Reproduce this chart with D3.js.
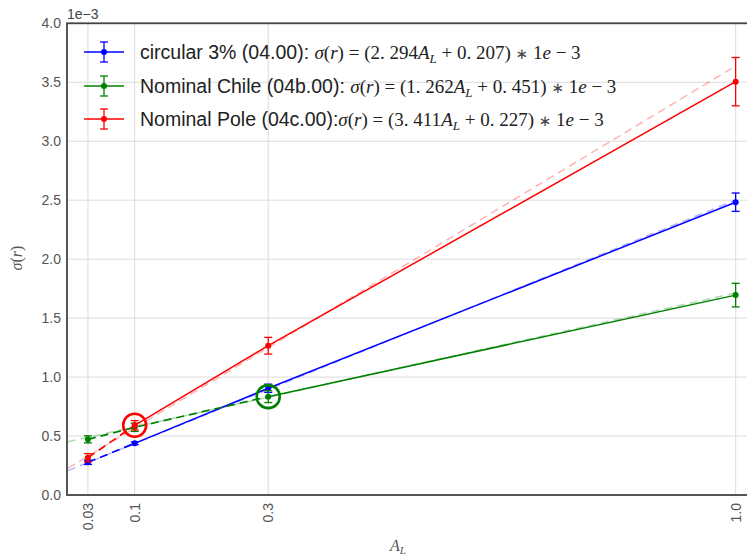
<!DOCTYPE html>
<html>
<head>
<meta charset="utf-8">
<script src="https://cdn.jsdelivr.net/npm/d3@7"></script>
<style>
  html, body { margin: 0; padding: 0; background: #fff; }
  svg { display: block; }
</style>
</head>
<body>
<svg id="chart" width="747" height="558"></svg>
<script>
// Amplitude levels A_L and measured sigma(r) (units of 1e-3) with error bars
const amplitudes = [0.03, 0.1, 0.3, 1.0];
const circularVals = [0.277, 0.438, 0.905, 2.483];
const circularErrs = [0.018, 0.012, 0.035, 0.078];
const chileVals = [0.472, 0.574, 0.834, 1.695];
const chileErrs = [0.030, 0.035, 0.050, 0.100];
const poleVals = [0.316, 0.591, 1.266, 3.505];
const poleErrs = [0.035, 0.040, 0.071, 0.205];

// Linear fits: sigma = slope * A_L + intercept
const fitSlopes = [2.294, 1.262, 3.411];
const fitIntercepts = [0.207, 0.451, 0.227];

const seriesNames = ["circular 3% (04.00): ", "Nominal Chile (04b.00): ", "Nominal Pole (04c.00):"];
const seriesColors = ["#0000ff", "#008000", "#ff0000"];
// index of the first point drawn with a solid line (earlier segments dashed)
const solidFrom = [1, 2, 1];
// highlighted point index per series (-1 = none)
const ringAt = [-1, 2, 1];

const xTicks = [0.03, 0.1, 0.3, 1.0];
const xTickLabels = ["0.03", "0.1", "0.3", "1.0"];
const yTicks = [0, 0.5, 1.0, 1.5, 2.0, 2.5, 3.0, 3.5, 4.0];

const svg = d3.select("#chart");
const x = d3.scaleLinear().domain([0, 1.02]).range([67.9, 749]);
const y = d3.scaleLinear().domain([0, 4]).range([495, 23.3]);

const series = [
  { vals: circularVals, errs: circularErrs },
  { vals: chileVals, errs: chileErrs },
  { vals: poleVals, errs: poleErrs }
];

// grid
const grid = svg.append("g");
grid.selectAll("line.v").data(xTicks).join("line")
  .attr("x1", d => x(d)).attr("x2", d => x(d))
  .attr("y1", y(0)).attr("y2", y(4))
  .attr("stroke", "#dcdcdc").attr("stroke-width", 1);
grid.selectAll("line.h").data(yTicks).join("line")
  .attr("x1", x(0)).attr("x2", 749)
  .attr("y1", d => y(d)).attr("y2", d => y(d))
  .attr("stroke", "#dcdcdc").attr("stroke-width", 1);

const plot = svg.append("g");

// fit lines (faint, dashed)
series.forEach((s, i) => {
  plot.append("line")
    .attr("x1", x(0)).attr("y1", y(fitIntercepts[i]))
    .attr("x2", x(1.0)).attr("y2", y(fitSlopes[i] * 1.0 + fitIntercepts[i]))
    .attr("stroke", seriesColors[i]).attr("stroke-opacity", 0.3)
    .attr("stroke-width", 1.5).attr("stroke-dasharray", "8,5");
});

const line = d3.line().x(d => x(d[0])).y(d => y(d[1]));

series.forEach((s, i) => {
  const pts = amplitudes.map((a, k) => [a, s.vals[k]]);
  const col = seriesColors[i];
  plot.append("path").attr("d", line(pts.slice(0, solidFrom[i] + 1)))
    .attr("fill", "none").attr("stroke", col).attr("stroke-width", 1.7)
    .attr("stroke-dasharray", "8,5");
  plot.append("path").attr("d", line(pts.slice(solidFrom[i])))
    .attr("fill", "none").attr("stroke", col).attr("stroke-width", 1.5);

  // error bars
  const eb = plot.append("g");
  amplitudes.forEach((a, k) => {
    const cx = x(a), lo = y(s.vals[k] - s.errs[k]), hi = y(s.vals[k] + s.errs[k]);
    eb.append("line").attr("x1", cx).attr("x2", cx).attr("y1", lo).attr("y2", hi)
      .attr("stroke", col).attr("stroke-width", 1.3);
    [lo, hi].forEach(yy => eb.append("line")
      .attr("x1", cx - 4).attr("x2", cx + 4).attr("y1", yy).attr("y2", yy)
      .attr("stroke", col).attr("stroke-width", 1.3));
    eb.append("circle").attr("cx", cx).attr("cy", y(s.vals[k])).attr("r", 3).attr("fill", col);
  });

  if (ringAt[i] >= 0) {
    const k = ringAt[i];
    plot.append("circle").attr("cx", x(amplitudes[k])).attr("cy", y(s.vals[k]))
      .attr("r", 11.5).attr("fill", "none").attr("stroke", col).attr("stroke-width", 2.6);
  }
});

// frame
svg.append("rect").attr("x", x(0) - 0.9).attr("y", y(4)).attr("width", 760).attr("height", y(0) - y(4))
  .attr("fill", "none").attr("stroke", "#444").attr("stroke-width", 1.8);

// y tick labels
svg.append("g").selectAll("text").data(yTicks).join("text")
  .attr("x", 61).attr("y", d => y(d) + 5)
  .attr("text-anchor", "end").attr("font-family", "Liberation Sans, Arial, sans-serif")
  .attr("font-size", 14).attr("fill", "#555")
  .text(d => d.toFixed(1));

svg.append("text").attr("x", 67).attr("y", 19)
  .attr("font-family", "Liberation Sans, Arial, sans-serif").attr("font-size", 14).attr("fill", "#444")
  .text("1e\u22123");

// x tick labels (vertical)
svg.append("g").selectAll("text").data(xTicks).join("text")
  .attr("transform", d => `translate(${x(d) + 5},503) rotate(-90)`)
  .attr("text-anchor", "end").attr("font-family", "Liberation Sans, Arial, sans-serif")
  .attr("font-size", 14).attr("fill", "#555")
  .text((d, i) => xTickLabels[i]);

// axis labels
const xl = svg.append("text").attr("x", 398).attr("y", 551).attr("text-anchor", "middle")
  .attr("font-family", "Liberation Serif, serif").attr("font-size", 16).attr("fill", "#555")
  .attr("font-style", "italic");
xl.append("tspan").text("A");
xl.append("tspan").attr("font-size", 11).attr("dy", 3).text("L");

const yl = svg.append("text").attr("transform", "translate(22,258) rotate(-90)")
  .attr("text-anchor", "middle").attr("font-family", "Liberation Serif, serif")
  .attr("font-size", 16).attr("fill", "#555");
yl.append("tspan").attr("font-style", "italic").text("σ");
yl.append("tspan").text("(");
yl.append("tspan").attr("font-style", "italic").text("r");
yl.append("tspan").text(")");

// legend
const legend = svg.append("g");
const rowY = [52, 86, 119];
series.forEach((s, i) => {
  const col = seriesColors[i];
  const ry = rowY[i];
  legend.append("line").attr("x1", 84).attr("x2", 124).attr("y1", ry).attr("y2", ry)
    .attr("stroke", col).attr("stroke-width", 1.5);
  legend.append("line").attr("x1", 104).attr("x2", 104).attr("y1", ry - 10).attr("y2", ry + 10)
    .attr("stroke", col).attr("stroke-width", 1.3);
  [ry - 10, ry + 10].forEach(yy => legend.append("line")
    .attr("x1", 100).attr("x2", 108).attr("y1", yy).attr("y2", yy)
    .attr("stroke", col).attr("stroke-width", 1.3));
  legend.append("circle").attr("cx", 104).attr("cy", ry).attr("r", 3).attr("fill", col);

  const t = legend.append("text").attr("x", 140).attr("y", ry + 7)
    .attr("font-size", 19.5).attr("fill", "#222");
  t.append("tspan").attr("font-family", "Liberation Sans, Arial, sans-serif").text(seriesNames[i]);
  const m = (txt, italic) => t.append("tspan")
    .attr("font-family", "Liberation Serif, serif").attr("font-size", 19)
    .attr("font-style", italic ? "italic" : "normal").text(txt);
  const num = v => { const s = v.toFixed(3); return s.replace(".", ". "); };
  m("σ", true); m("(", false); m("r", true); m(") = (" + num(fitSlopes[i]), false);
  m("A", true);
  t.append("tspan").attr("font-family", "Liberation Serif, serif").attr("font-style", "italic")
    .attr("font-size", 13).attr("dy", 4).text("L");
  t.append("tspan").attr("font-family", "Liberation Serif, serif").attr("font-size", 19).attr("dy", -4)
    .text(" + " + num(fitIntercepts[i]) + ") ");
  t.append("tspan").attr("font-family", "DejaVu Sans, sans-serif").attr("font-size", 15)
    .attr("fill", "#444").text("\u2217");
  m(" 1", false);
  m("e", true); m(" \u2212 3", false);
});
</script>
</body>
</html>
